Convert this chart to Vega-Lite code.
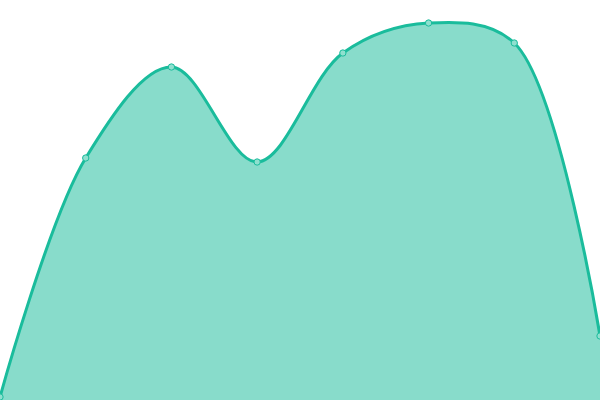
{
  "$schema": "https://vega.github.io/schema/vega-lite/v6.json",
  "width": 600,
  "height": 400,
  "autosize": "none",
  "padding": 0,
  "background": "white",
  "config": {"view": {"stroke": null}},
  "data": {"values": [
    {"x": 0, "y": 3},
    {"x": 1, "y": 242},
    {"x": 2, "y": 333},
    {"x": 3, "y": 238},
    {"x": 4, "y": 347},
    {"x": 5, "y": 377},
    {"x": 6, "y": 357},
    {"x": 7, "y": 64}
  ]},
  "encoding": {
    "x": {"field": "x", "type": "quantitative", "scale": {"domain": [0, 7], "nice": false}, "axis": null},
    "y": {"field": "y", "type": "quantitative", "scale": {"domain": [0, 400], "nice": false}, "axis": null}
  },
  "layer": [
    {"mark": {"type": "area", "interpolate": "catmull-rom", "color": "#1abc9c", "opacity": 0.52}},
    {"mark": {"type": "line", "interpolate": "catmull-rom", "color": "#1abc9c", "strokeWidth": 3}},
    {"mark": {"type": "point", "shape": "circle", "size": 40, "filled": true, "fill": "#8fe0cf", "stroke": "#1abc9c", "strokeWidth": 1, "opacity": 1}}
  ]
}
